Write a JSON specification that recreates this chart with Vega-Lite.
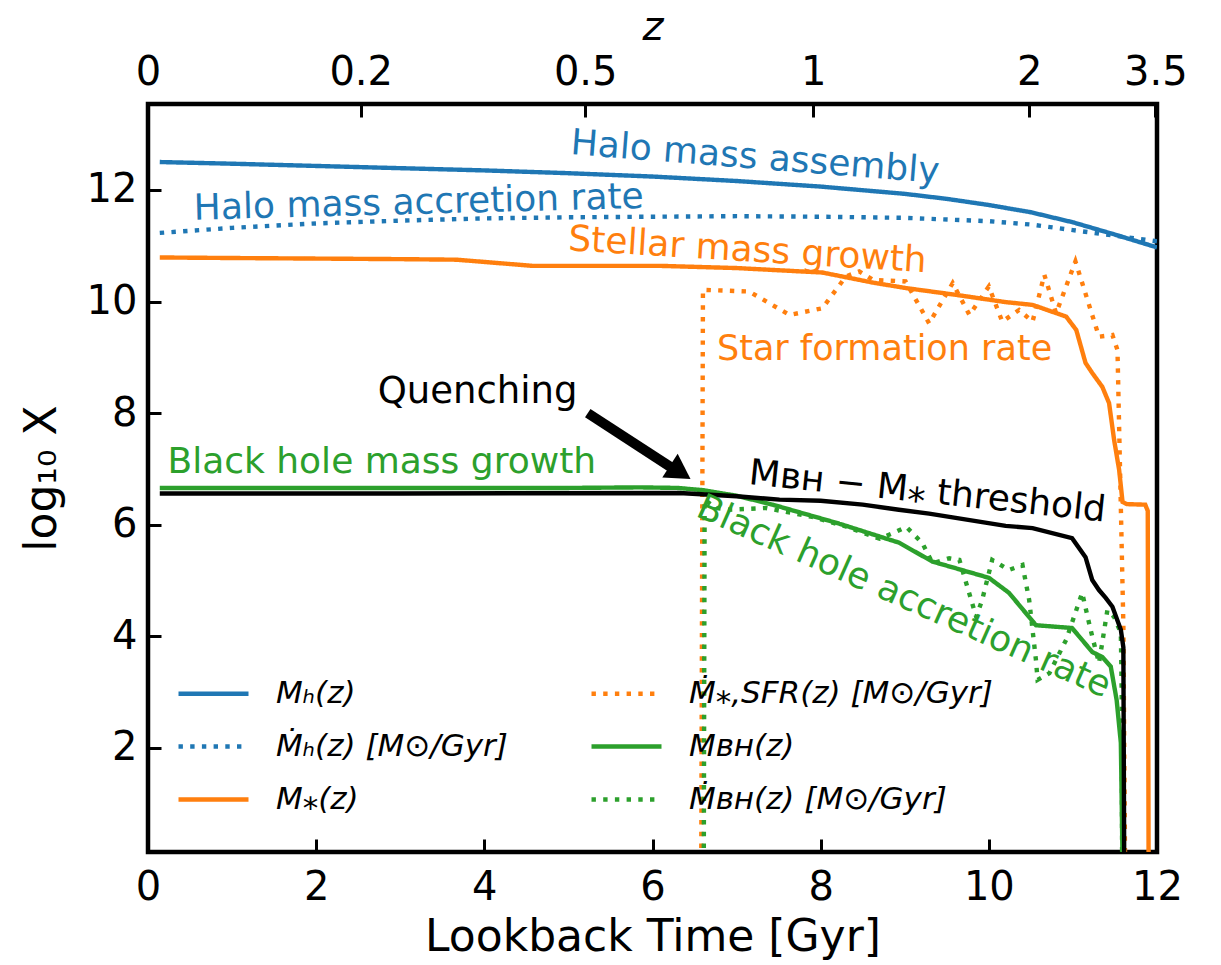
{
  "$schema": "https://vega.github.io/schema/vega-lite/v6.json",
  "width": 1009,
  "height": 748,
  "autosize": "none",
  "padding": {"left": 148, "top": 104, "right": 64, "bottom": 113},
  "background": "white",
  "config": {
    "font": "DejaVu Sans",
    "view": {"stroke": "black", "strokeWidth": 4.5},
    "axis": {
      "grid": false,
      "domain": false,
      "tickColor": "black",
      "tickWidth": 3,
      "tickSize": -13,
      "labelColor": "black",
      "titleColor": "black",
      "labelFontSize": 40,
      "titleFontSize": 44,
      "titleFontWeight": "normal",
      "labelFlush": false,
      "labelOverlap": false
    }
  },
  "datasets": {
    "curves": [
      {"series": "Mₕ(z)", "t": 0.14, "v": 12.5},
      {"series": "Mₕ(z)", "t": 1, "v": 12.47},
      {"series": "Mₕ(z)", "t": 2, "v": 12.43},
      {"series": "Mₕ(z)", "t": 3, "v": 12.39},
      {"series": "Mₕ(z)", "t": 4, "v": 12.35},
      {"series": "Mₕ(z)", "t": 5, "v": 12.3},
      {"series": "Mₕ(z)", "t": 6, "v": 12.24},
      {"series": "Mₕ(z)", "t": 7, "v": 12.16},
      {"series": "Mₕ(z)", "t": 8, "v": 12.06},
      {"series": "Mₕ(z)", "t": 9, "v": 11.93},
      {"series": "Mₕ(z)", "t": 9.5, "v": 11.84},
      {"series": "Mₕ(z)", "t": 10, "v": 11.73},
      {"series": "Mₕ(z)", "t": 10.5, "v": 11.6},
      {"series": "Mₕ(z)", "t": 11, "v": 11.42},
      {"series": "Mₕ(z)", "t": 11.5, "v": 11.2},
      {"series": "Mₕ(z)", "t": 12, "v": 10.97},

      {"series": "Ṁₕ(z) [M⊙/Gyr]", "t": 0.14, "v": 11.23},
      {"series": "Ṁₕ(z) [M⊙/Gyr]", "t": 1, "v": 11.32},
      {"series": "Ṁₕ(z) [M⊙/Gyr]", "t": 2, "v": 11.4},
      {"series": "Ṁₕ(z) [M⊙/Gyr]", "t": 3, "v": 11.45},
      {"series": "Ṁₕ(z) [M⊙/Gyr]", "t": 4, "v": 11.49},
      {"series": "Ṁₕ(z) [M⊙/Gyr]", "t": 5, "v": 11.51},
      {"series": "Ṁₕ(z) [M⊙/Gyr]", "t": 6, "v": 11.52},
      {"series": "Ṁₕ(z) [M⊙/Gyr]", "t": 7, "v": 11.53},
      {"series": "Ṁₕ(z) [M⊙/Gyr]", "t": 8, "v": 11.52},
      {"series": "Ṁₕ(z) [M⊙/Gyr]", "t": 9, "v": 11.5},
      {"series": "Ṁₕ(z) [M⊙/Gyr]", "t": 10, "v": 11.44},
      {"series": "Ṁₕ(z) [M⊙/Gyr]", "t": 10.5, "v": 11.38},
      {"series": "Ṁₕ(z) [M⊙/Gyr]", "t": 11, "v": 11.28},
      {"series": "Ṁₕ(z) [M⊙/Gyr]", "t": 11.5, "v": 11.18},
      {"series": "Ṁₕ(z) [M⊙/Gyr]", "t": 12, "v": 11.08},

      {"series": "M⁎(z)", "t": 0.14, "v": 10.79},
      {"series": "M⁎(z)", "t": 1, "v": 10.78},
      {"series": "M⁎(z)", "t": 2, "v": 10.77},
      {"series": "M⁎(z)", "t": 3, "v": 10.76},
      {"series": "M⁎(z)", "t": 3.67, "v": 10.75},
      {"series": "M⁎(z)", "t": 4.57, "v": 10.64},
      {"series": "M⁎(z)", "t": 5.5, "v": 10.64},
      {"series": "M⁎(z)", "t": 6.08, "v": 10.64},
      {"series": "M⁎(z)", "t": 7, "v": 10.6},
      {"series": "M⁎(z)", "t": 8.02, "v": 10.52},
      {"series": "M⁎(z)", "t": 8.62, "v": 10.34},
      {"series": "M⁎(z)", "t": 9.02, "v": 10.24},
      {"series": "M⁎(z)", "t": 9.61, "v": 10.12},
      {"series": "M⁎(z)", "t": 10.2, "v": 9.99},
      {"series": "M⁎(z)", "t": 10.52, "v": 9.94},
      {"series": "M⁎(z)", "t": 10.92, "v": 9.73},
      {"series": "M⁎(z)", "t": 11.04, "v": 9.49},
      {"series": "M⁎(z)", "t": 11.15, "v": 8.9},
      {"series": "M⁎(z)", "t": 11.23, "v": 8.72},
      {"series": "M⁎(z)", "t": 11.35, "v": 8.47},
      {"series": "M⁎(z)", "t": 11.43, "v": 8.18},
      {"series": "M⁎(z)", "t": 11.49, "v": 7.52},
      {"series": "M⁎(z)", "t": 11.55, "v": 6.98},
      {"series": "M⁎(z)", "t": 11.59, "v": 6.41},
      {"series": "M⁎(z)", "t": 11.64, "v": 6.37},
      {"series": "M⁎(z)", "t": 11.86, "v": 6.36},
      {"series": "M⁎(z)", "t": 11.89, "v": 6.25},
      {"series": "M⁎(z)", "t": 11.9, "v": 0.0},

      {"series": "Ṁ⁎,SFR(z) [M⊙/Gyr]", "t": 6.58, "v": 0.0},
      {"series": "Ṁ⁎,SFR(z) [M⊙/Gyr]", "t": 6.6, "v": 10.21},
      {"series": "Ṁ⁎,SFR(z) [M⊙/Gyr]", "t": 7.15, "v": 10.18},
      {"series": "Ṁ⁎,SFR(z) [M⊙/Gyr]", "t": 7.63, "v": 9.76},
      {"series": "Ṁ⁎,SFR(z) [M⊙/Gyr]", "t": 8.02, "v": 9.88},
      {"series": "Ṁ⁎,SFR(z) [M⊙/Gyr]", "t": 8.3, "v": 10.45},
      {"series": "Ṁ⁎,SFR(z) [M⊙/Gyr]", "t": 8.46, "v": 10.54},
      {"series": "Ṁ⁎,SFR(z) [M⊙/Gyr]", "t": 8.62, "v": 10.39},
      {"series": "Ṁ⁎,SFR(z) [M⊙/Gyr]", "t": 9.01, "v": 10.36},
      {"series": "Ṁ⁎,SFR(z) [M⊙/Gyr]", "t": 9.29, "v": 9.61},
      {"series": "Ṁ⁎,SFR(z) [M⊙/Gyr]", "t": 9.57, "v": 10.33},
      {"series": "Ṁ⁎,SFR(z) [M⊙/Gyr]", "t": 9.77, "v": 9.76},
      {"series": "Ṁ⁎,SFR(z) [M⊙/Gyr]", "t": 10.0, "v": 10.27},
      {"series": "Ṁ⁎,SFR(z) [M⊙/Gyr]", "t": 10.16, "v": 9.64},
      {"series": "Ṁ⁎,SFR(z) [M⊙/Gyr]", "t": 10.36, "v": 9.85},
      {"series": "Ṁ⁎,SFR(z) [M⊙/Gyr]", "t": 10.52, "v": 9.64},
      {"series": "Ṁ⁎,SFR(z) [M⊙/Gyr]", "t": 10.66, "v": 10.48},
      {"series": "Ṁ⁎,SFR(z) [M⊙/Gyr]", "t": 10.8, "v": 9.79},
      {"series": "Ṁ⁎,SFR(z) [M⊙/Gyr]", "t": 11.03, "v": 10.72},
      {"series": "Ṁ⁎,SFR(z) [M⊙/Gyr]", "t": 11.31, "v": 9.37},
      {"series": "Ṁ⁎,SFR(z) [M⊙/Gyr]", "t": 11.47, "v": 9.4},
      {"series": "Ṁ⁎,SFR(z) [M⊙/Gyr]", "t": 11.53, "v": 9.13},
      {"series": "Ṁ⁎,SFR(z) [M⊙/Gyr]", "t": 11.6, "v": 4.2},
      {"series": "Ṁ⁎,SFR(z) [M⊙/Gyr]", "t": 11.62, "v": 0.0},

      {"series": "Mʙʜ(z)", "t": 0.14, "v": 6.66},
      {"series": "Mʙʜ(z)", "t": 1, "v": 6.66},
      {"series": "Mʙʜ(z)", "t": 3, "v": 6.66},
      {"series": "Mʙʜ(z)", "t": 5, "v": 6.66},
      {"series": "Mʙʜ(z)", "t": 5.85, "v": 6.67},
      {"series": "Mʙʜ(z)", "t": 6.3, "v": 6.66},
      {"series": "Mʙʜ(z)", "t": 6.6, "v": 6.62},
      {"series": "Mʙʜ(z)", "t": 7.0, "v": 6.52},
      {"series": "Mʙʜ(z)", "t": 7.43, "v": 6.36},
      {"series": "Mʙʜ(z)", "t": 8.22, "v": 6.02},
      {"series": "Mʙʜ(z)", "t": 8.7, "v": 5.79},
      {"series": "Mʙʜ(z)", "t": 8.93, "v": 5.68},
      {"series": "Mʙʜ(z)", "t": 9.33, "v": 5.34},
      {"series": "Mʙʜ(z)", "t": 10.0, "v": 5.05},
      {"series": "Mʙʜ(z)", "t": 10.24, "v": 4.78},
      {"series": "Mʙʜ(z)", "t": 10.56, "v": 4.2},
      {"series": "Mʙʜ(z)", "t": 10.99, "v": 4.15},
      {"series": "Mʙʜ(z)", "t": 11.23, "v": 3.72},
      {"series": "Mʙʜ(z)", "t": 11.35, "v": 3.63},
      {"series": "Mʙʜ(z)", "t": 11.45, "v": 3.46},
      {"series": "Mʙʜ(z)", "t": 11.52, "v": 2.86},
      {"series": "Mʙʜ(z)", "t": 11.57, "v": 2.09},
      {"series": "Mʙʜ(z)", "t": 11.59, "v": 0.0},

      {"series": "Ṁʙʜ(z) [M⊙/Gyr]", "t": 6.61, "v": 0.0},
      {"series": "Ṁʙʜ(z) [M⊙/Gyr]", "t": 6.62, "v": 6.45},
      {"series": "Ṁʙʜ(z) [M⊙/Gyr]", "t": 6.75, "v": 6.3},
      {"series": "Ṁʙʜ(z) [M⊙/Gyr]", "t": 6.91, "v": 6.27},
      {"series": "Ṁʙʜ(z) [M⊙/Gyr]", "t": 7.35, "v": 6.3},
      {"series": "Ṁʙʜ(z) [M⊙/Gyr]", "t": 7.9, "v": 6.14},
      {"series": "Ṁʙʜ(z) [M⊙/Gyr]", "t": 8.3, "v": 5.97},
      {"series": "Ṁʙʜ(z) [M⊙/Gyr]", "t": 8.7, "v": 5.75},
      {"series": "Ṁʙʜ(z) [M⊙/Gyr]", "t": 8.86, "v": 5.85},
      {"series": "Ṁʙʜ(z) [M⊙/Gyr]", "t": 9.02, "v": 5.96},
      {"series": "Ṁʙʜ(z) [M⊙/Gyr]", "t": 9.21, "v": 5.67},
      {"series": "Ṁʙʜ(z) [M⊙/Gyr]", "t": 9.33, "v": 5.31},
      {"series": "Ṁʙʜ(z) [M⊙/Gyr]", "t": 9.53, "v": 5.4},
      {"series": "Ṁʙʜ(z) [M⊙/Gyr]", "t": 9.65, "v": 5.37},
      {"series": "Ṁʙʜ(z) [M⊙/Gyr]", "t": 9.73, "v": 4.96},
      {"series": "Ṁʙʜ(z) [M⊙/Gyr]", "t": 9.85, "v": 4.35},
      {"series": "Ṁʙʜ(z) [M⊙/Gyr]", "t": 9.92, "v": 4.65},
      {"series": "Ṁʙʜ(z) [M⊙/Gyr]", "t": 10.0, "v": 5.13},
      {"series": "Ṁʙʜ(z) [M⊙/Gyr]", "t": 10.04, "v": 5.37},
      {"series": "Ṁʙʜ(z) [M⊙/Gyr]", "t": 10.24, "v": 5.19},
      {"series": "Ṁʙʜ(z) [M⊙/Gyr]", "t": 10.4, "v": 5.28},
      {"series": "Ṁʙʜ(z) [M⊙/Gyr]", "t": 10.48, "v": 4.65},
      {"series": "Ṁʙʜ(z) [M⊙/Gyr]", "t": 10.56, "v": 3.58},
      {"series": "Ṁʙʜ(z) [M⊙/Gyr]", "t": 10.58, "v": 3.22},
      {"series": "Ṁʙʜ(z) [M⊙/Gyr]", "t": 10.72, "v": 3.34},
      {"series": "Ṁʙʜ(z) [M⊙/Gyr]", "t": 10.92, "v": 3.94},
      {"series": "Ṁʙʜ(z) [M⊙/Gyr]", "t": 11.11, "v": 4.78},
      {"series": "Ṁʙʜ(z) [M⊙/Gyr]", "t": 11.21, "v": 4.12},
      {"series": "Ṁʙʜ(z) [M⊙/Gyr]", "t": 11.31, "v": 3.52},
      {"series": "Ṁʙʜ(z) [M⊙/Gyr]", "t": 11.41, "v": 4.47},
      {"series": "Ṁʙʜ(z) [M⊙/Gyr]", "t": 11.49, "v": 4.35},
      {"series": "Ṁʙʜ(z) [M⊙/Gyr]", "t": 11.57, "v": 4.06},
      {"series": "Ṁʙʜ(z) [M⊙/Gyr]", "t": 11.58, "v": 3.0},
      {"series": "Ṁʙʜ(z) [M⊙/Gyr]", "t": 11.585, "v": 0.0}
    ],
    "threshold": [
      {"t": 0.14, "v": 6.56},
      {"t": 3, "v": 6.56},
      {"t": 6.32, "v": 6.57},
      {"t": 7.0, "v": 6.51},
      {"t": 7.51, "v": 6.45},
      {"t": 8.0, "v": 6.43},
      {"t": 8.5, "v": 6.36},
      {"t": 8.93, "v": 6.27},
      {"t": 9.29, "v": 6.2},
      {"t": 10.2, "v": 5.98},
      {"t": 10.52, "v": 5.94},
      {"t": 10.99, "v": 5.76},
      {"t": 11.15, "v": 5.42},
      {"t": 11.23, "v": 5.01},
      {"t": 11.31, "v": 4.83},
      {"t": 11.39, "v": 4.69},
      {"t": 11.47, "v": 4.53},
      {"t": 11.57, "v": 4.12},
      {"t": 11.6, "v": 3.8},
      {"t": 11.61, "v": 0.0}
    ]
  },
  "resolve": {"axis": {"x": "independent", "y": "independent"}},
  "layer": [
    {
      "data": {"name": "curves"},
      "mark": {"type": "line", "strokeWidth": 4.4, "clip": true},
      "encoding": {
        "x": {
          "field": "t", "type": "quantitative",
          "scale": {"domain": [0, 12], "nice": false, "zero": false},
          "axis": {"orient": "bottom", "values": [0, 2, 4, 6, 8, 10, 12], "format": "d", "title": "Lookback Time [Gyr]", "labelPadding": 28, "titlePadding": 8}
        },
        "y": {
          "field": "v", "type": "quantitative",
          "scale": {"domain": [0.136, 13.54], "nice": false, "zero": false},
          "axis": {"orient": "left", "values": [2, 4, 6, 8, 10, 12], "format": "d", "title": "log₁₀ X", "labelPadding": 24, "titlePadding": 22}
        },
        "color": {
          "field": "series", "type": "nominal",
          "scale": {
            "domain": ["Mₕ(z)", "Ṁₕ(z) [M⊙/Gyr]", "M⁎(z)", "Ṁ⁎,SFR(z) [M⊙/Gyr]", "Mʙʜ(z)", "Ṁʙʜ(z) [M⊙/Gyr]"],
            "range": ["#1f77b4", "#1f77b4", "#ff7f0e", "#ff7f0e", "#2ca02c", "#2ca02c"]
          },
          "legend": {
            "title": null, "orient": "none", "legendX": 28, "legendY": 552, "columns": 2,
            "symbolType": "stroke", "symbolSize": 4900, "symbolStrokeWidth": 4.4,
            "labelFontSize": 31, "labelFontStyle": "italic", "labelColor": "black", "labelOffset": 25, "labelLimit": 500,
            "rowPadding": -9, "columnPadding": 74
          }
        },
        "strokeDash": {
          "field": "series", "type": "nominal",
          "scale": {
            "domain": ["Mₕ(z)", "Ṁₕ(z) [M⊙/Gyr]", "M⁎(z)", "Ṁ⁎,SFR(z) [M⊙/Gyr]", "Mʙʜ(z)", "Ṁʙʜ(z) [M⊙/Gyr]"],
            "range": [[1, 0], [4.4, 7.3], [1, 0], [4.4, 7.3], [1, 0], [4.4, 7.3]]
          },
          "legend": {
            "title": null, "orient": "none", "legendX": 28, "legendY": 552, "columns": 2,
            "symbolType": "stroke", "symbolSize": 4900, "symbolStrokeWidth": 4.4,
            "labelFontSize": 31, "labelFontStyle": "italic", "labelColor": "black", "labelOffset": 25, "labelLimit": 500,
            "rowPadding": -9, "columnPadding": 74
          }
        }
      }
    },
    {
      "data": {"name": "threshold"},
      "mark": {"type": "line", "strokeWidth": 4.4, "color": "black", "clip": true},
      "encoding": {
        "x": {
          "field": "t", "type": "quantitative",
          "scale": {"domain": [0, 12], "nice": false, "zero": false},
          "axis": {
            "orient": "top", "values": [0, 2.53, 5.2, 7.91, 10.48, 11.98],
            "labelExpr": "datum.value < 1 ? '0' : datum.value < 3 ? '0.2' : datum.value < 6 ? '0.5' : datum.value < 9 ? '1' : datum.value < 11 ? '2' : '3.5'",
            "title": "z", "titleFontStyle": "italic", "titleFontSize": 40, "labelPadding": 25, "titlePadding": 5
          }
        },
        "y": {"field": "v", "type": "quantitative", "axis": null}
      }
    },
    {
      "data": {"values": [{"t": 5.23, "v": 8.0, "t2": 6.22, "v2": 7.03}]},
      "mark": {"type": "rule", "color": "black", "strokeWidth": 10, "strokeCap": "butt"},
      "encoding": {
        "x": {"field": "t", "type": "quantitative", "axis": null},
        "y": {"field": "v", "type": "quantitative", "axis": null},
        "x2": {"field": "t2"},
        "y2": {"field": "v2"}
      }
    },
    {
      "data": {"values": [{"t": 6.33, "v": 6.94}]},
      "mark": {"type": "point", "shape": "triangle-right", "filled": true, "color": "black", "opacity": 1, "size": 800, "angle": 33},
      "encoding": {
        "x": {"field": "t", "type": "quantitative", "axis": null},
        "y": {"field": "v", "type": "quantitative", "axis": null}
      }
    },
    {
      "data": {"values": [{"t": 7.22, "v": 12.58, "label": "Halo mass assembly"}]},
      "mark": {"type": "text", "color": "#1f77b4", "fontSize": 36, "angle": 4.5, "align": "center", "baseline": "middle"},
      "encoding": {
        "x": {"field": "t", "type": "quantitative", "axis": null},
        "y": {"field": "v", "type": "quantitative", "axis": null},
        "text": {"field": "label"}
      }
    },
    {
      "data": {"values": [{"t": 3.22, "v": 11.77, "label": "Halo mass accretion rate"}]},
      "mark": {"type": "text", "color": "#1f77b4", "fontSize": 36, "angle": -1.5, "align": "center", "baseline": "middle"},
      "encoding": {
        "x": {"field": "t", "type": "quantitative", "axis": null},
        "y": {"field": "v", "type": "quantitative", "axis": null},
        "text": {"field": "label"}
      }
    },
    {
      "data": {"values": [{"t": 7.13, "v": 10.92, "label": "Stellar mass growth"}]},
      "mark": {"type": "text", "color": "#ff7f0e", "fontSize": 36, "angle": 3.5, "align": "center", "baseline": "middle"},
      "encoding": {
        "x": {"field": "t", "type": "quantitative", "axis": null},
        "y": {"field": "v", "type": "quantitative", "axis": null},
        "text": {"field": "label"}
      }
    },
    {
      "data": {"values": [{"t": 8.76, "v": 9.15, "label": "Star formation rate"}]},
      "mark": {"type": "text", "color": "#ff7f0e", "fontSize": 35, "align": "center", "baseline": "middle"},
      "encoding": {
        "x": {"field": "t", "type": "quantitative", "axis": null},
        "y": {"field": "v", "type": "quantitative", "axis": null},
        "text": {"field": "label"}
      }
    },
    {
      "data": {"values": [{"t": 3.92, "v": 8.38, "label": "Quenching"}]},
      "mark": {"type": "text", "color": "black", "fontSize": 37, "align": "center", "baseline": "middle"},
      "encoding": {
        "x": {"field": "t", "type": "quantitative", "axis": null},
        "y": {"field": "v", "type": "quantitative", "axis": null},
        "text": {"field": "label"}
      }
    },
    {
      "data": {"values": [{"t": 2.78, "v": 7.13, "label": "Black hole mass growth"}]},
      "mark": {"type": "text", "color": "#2ca02c", "fontSize": 36, "align": "center", "baseline": "middle"},
      "encoding": {
        "x": {"field": "t", "type": "quantitative", "axis": null},
        "y": {"field": "v", "type": "quantitative", "axis": null},
        "text": {"field": "label"}
      }
    },
    {
      "data": {"values": [{"t": 9.27, "v": 6.59, "label": "Mʙʜ − M⁎ threshold"}]},
      "mark": {"type": "text", "color": "black", "fontSize": 36, "angle": 6, "align": "center", "baseline": "middle"},
      "encoding": {
        "x": {"field": "t", "type": "quantitative", "axis": null},
        "y": {"field": "v", "type": "quantitative", "axis": null},
        "text": {"field": "label"}
      }
    },
    {
      "data": {"values": [{"t": 8.99, "v": 4.71, "label": "Black hole accretion rate"}]},
      "mark": {"type": "text", "color": "#2ca02c", "fontSize": 36, "angle": 24, "align": "center", "baseline": "middle"},
      "encoding": {
        "x": {"field": "t", "type": "quantitative", "axis": null},
        "y": {"field": "v", "type": "quantitative", "axis": null},
        "text": {"field": "label"}
      }
    }
  ]
}
